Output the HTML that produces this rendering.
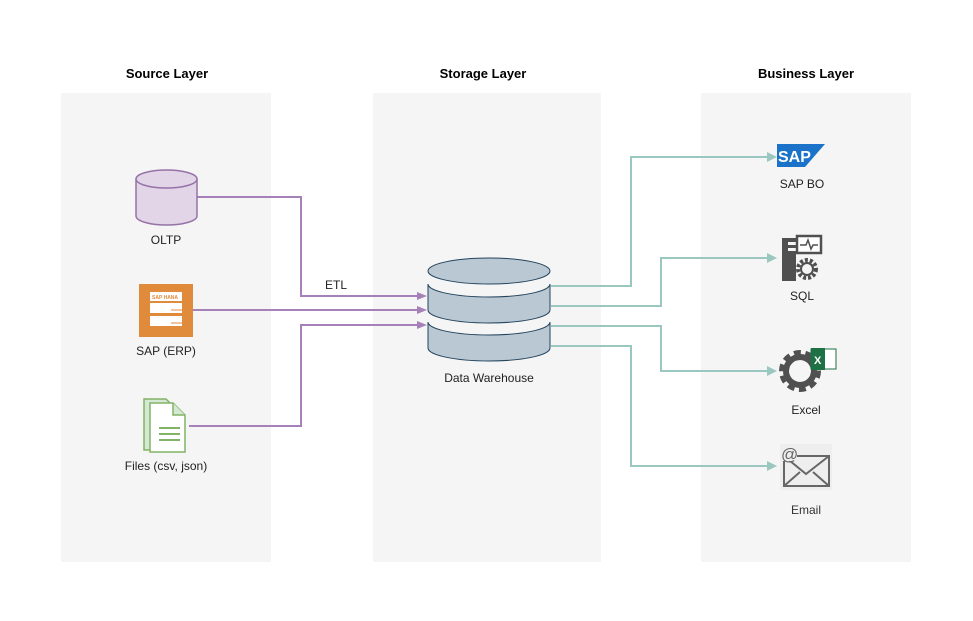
<!DOCTYPE html>
<html><head><style>body{margin:0;background:#fff}svg{display:block}text{font-family:"Liberation Sans",sans-serif}</style></head><body>
<svg width="973" height="621" viewBox="0 0 973 621" xmlns="http://www.w3.org/2000/svg">
<rect x="61" y="93" width="210" height="469" fill="#f5f5f5"/>
<rect x="373" y="93" width="228" height="469" fill="#f5f5f5"/>
<rect x="701" y="93" width="210" height="469" fill="#f5f5f5"/>
<text x="167" y="78" font-size="13" font-weight="bold" text-anchor="middle">Source Layer</text>
<text x="483" y="78" font-size="13" font-weight="bold" text-anchor="middle">Storage Layer</text>
<text x="806" y="78" font-size="13" font-weight="bold" text-anchor="middle">Business Layer</text>
<g fill="none" stroke="#a680b8" stroke-width="2">
<polyline points="197,197 301,197 301,296 418,296"/>
<polyline points="193,310 418,310"/>
<polyline points="189,426 301,426 301,325 418,325"/>
</g>
<g fill="#a680b8"><path d="M427,296 l-10,-4 v8z"/><path d="M427,310 l-10,-4 v8z"/><path d="M427,325 l-10,-4 v8z"/></g>
<text x="336" y="289" font-size="12" text-anchor="middle" fill="#222">ETL</text>
<g fill="none" stroke="#9ac7bf" stroke-width="2">
<polyline points="551,286 631,286 631,157 768,157"/>
<polyline points="551,306 661,306 661,258 768,258"/>
<polyline points="551,326 661,326 661,371 768,371"/>
<polyline points="551,346 631,346 631,466 768,466"/>
</g>
<g fill="#9ac7bf"><path d="M777,157 l-10,-5 v10z"/><path d="M777,258 l-10,-5 v10z"/><path d="M777,371 l-10,-5 v10z"/><path d="M777,466 l-10,-5 v10z"/></g>
<!-- OLTP -->
<path d="M136,179 v37 a30.5,9 0 0 0 61,0 v-37" fill="#e1d5e7" stroke="#9673a6" stroke-width="1.5"/>
<ellipse cx="166.5" cy="179" rx="30.5" ry="9" fill="#e1d5e7" stroke="#9673a6" stroke-width="1.5"/>
<text x="166" y="244" font-size="12" text-anchor="middle" fill="#222">OLTP</text>
<!-- SAP -->
<rect x="139" y="284" width="54" height="53" fill="#e08a3c"/>
<rect x="150" y="292" width="32" height="9" fill="#fff"/>
<text x="152" y="299" font-size="5" font-weight="bold" fill="#e08a3c">SAP HANA</text>
<rect x="150" y="303" width="32" height="10" fill="#fff"/>
<rect x="150" y="316" width="32" height="10" fill="#fff"/>
<line x1="171" y1="310" x2="182" y2="310" stroke="#e08a3c"/><line x1="171" y1="323" x2="182" y2="323" stroke="#e08a3c"/>
<text x="166" y="355" font-size="12" text-anchor="middle" fill="#222">SAP (ERP)</text>
<!-- Files -->
<path d="M144,399 h22 l11,11 v40 h-33z" fill="#d5e8d4" stroke="#82b366" stroke-width="1.5"/>
<path d="M150,403 h23 l12,12 v37 h-35z" fill="#fff" stroke="#82b366" stroke-width="1.5"/>
<path d="M173,403 v12 h12" fill="#d5e8d4" stroke="#82b366" stroke-width="1.5"/>
<g stroke="#82b366" stroke-width="2"><line x1="159" y1="428" x2="180" y2="428"/><line x1="159" y1="434" x2="180" y2="434"/><line x1="159" y1="440" x2="180" y2="440"/></g>
<text x="166" y="470" font-size="12" text-anchor="middle" fill="#222">Files (csv, json)</text>
<!-- DW -->
<g fill="#bac8d3" stroke="#23445d" stroke-width="1">
<path d="M428,322 v26 a61,13 0 0 0 122,0 v-26 a61,13 0 0 1 -122,0z"/>
<path d="M428,284 v26 a61,13 0 0 0 122,0 v-26 a61,13 0 0 1 -122,0z"/>
<ellipse cx="489" cy="271" rx="61" ry="13"/>
</g>
<text x="489" y="382" font-size="12" text-anchor="middle" fill="#222">Data Warehouse</text>
<!-- SAP BO -->
<path d="M777,144 h48 l-20,23 h-28z" fill="#1a73c8"/>
<text x="778" y="162" font-size="16" font-weight="bold" fill="#fff">SAP</text>
<text x="802" y="188" font-size="12" text-anchor="middle" fill="#222">SAP BO</text>
<!-- SQL -->
<path d="M782,238 h14 v4 h-8 v3 h8 v3 h-8 v3 h8 v30 h-14z" fill="#505050"/>
<rect x="797" y="236" width="24" height="17" fill="#fff" stroke="#505050" stroke-width="2.5"/>
<path d="M800,245 h6 l2,-5 l3,9 l2,-4 h5" stroke="#505050" fill="none" stroke-width="1.5"/>
<circle cx="807" cy="269" r="9" fill="none" stroke="#505050" stroke-width="4" stroke-dasharray="3 2"/>
<circle cx="807" cy="269" r="6" fill="none" stroke="#505050" stroke-width="2"/>
<text x="802" y="300" font-size="12" text-anchor="middle" fill="#222">SQL</text>
<!-- Excel -->
<circle cx="800" cy="371" r="16" fill="none" stroke="#505050" stroke-width="10" stroke-dasharray="6 4"/>
<circle cx="800" cy="371" r="14" fill="none" stroke="#505050" stroke-width="6"/>
<rect x="811" y="349" width="25" height="20" fill="#fff" stroke="#1e7145"/>
<rect x="811" y="348" width="14" height="22" fill="#1e7145"/>
<text x="814" y="364" font-size="11" font-weight="bold" fill="#fff">X</text>
<text x="806" y="414" font-size="12" text-anchor="middle" fill="#222">Excel</text>
<!-- Email -->
<rect x="780" y="444" width="52" height="46" fill="#eeeeee"/>
<rect x="784" y="456" width="45" height="30" fill="none" stroke="#666" stroke-width="2"/>
<path d="M784,456 l22,18 l23,-18 M784,486 l16,-14 M829,486 l-16,-14" fill="none" stroke="#666" stroke-width="2"/>
<rect x="780" y="446" width="17" height="15" fill="#eee"/>
<text x="781" y="460" font-size="17" fill="#666">@</text>
<text x="806" y="514" font-size="12" text-anchor="middle" fill="#333">Email</text>
</svg>
</body></html>
